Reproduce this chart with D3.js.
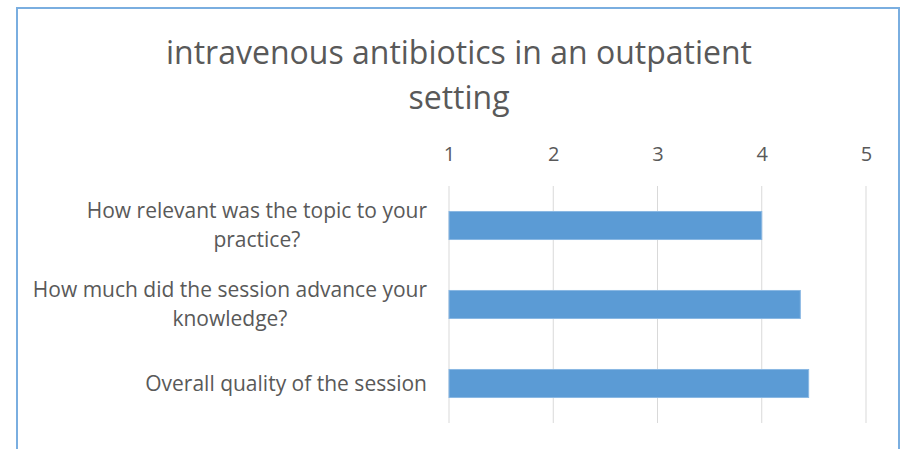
<!DOCTYPE html>
<html>
<head>
<meta charset="utf-8">
<script src="https://cdn.jsdelivr.net/npm/d3@7"></script>
<style>
  body { margin: 0; background: #fff; }
  text { font-family: "Open Sans", sans-serif; fill: #595959; }
</style>
</head>
<body>
<div id="vis"></div>
<script>
const questions = [
  ["How relevant was the topic to your", "practice?"],
  ["How much did the session advance your", "knowledge?"],
  ["Overall quality of the session"]
];
const scores = [4.0, 4.37, 4.45];
const ticks = [1, 2, 3, 4, 5];
const titleLines = ["intravenous antibiotics in an outpatient", "setting"];

const width = 901, height = 449;

const svg = d3.select("#vis")
  .append("svg")
  .attr("width", width)
  .attr("height", height);

// chart frame
svg.append("rect")
  .attr("x", 17).attr("y", 8)
  .attr("width", 882).attr("height", 460)
  .attr("fill", "#fff")
  .attr("stroke", "#7aaee0")
  .attr("stroke-width", 2);

svg.selectAll(".title")
  .data(titleLines)
  .enter()
  .append("text")
  .attr("class", "title")
  .attr("x", 459)
  .attr("y", (d, i) => 64 + i * 45)
  .attr("text-anchor", "middle")
  .attr("font-size", 32)
  .text(d => d);

const x = d3.scaleLinear().domain([1, 5]).range([449, 866]);
const y = d3.scaleBand()
  .domain(d3.range(questions.length))
  .range([186, 423])
  .paddingInner(0.645)
  .paddingOuter(0.3225);

// gridlines
svg.selectAll(".grid")
  .data(ticks)
  .enter()
  .append("line")
  .attr("x1", d => x(d)).attr("x2", d => x(d))
  .attr("y1", 186).attr("y2", 423)
  .attr("stroke", "#d9d9d9")
  .attr("stroke-width", 1);

const axis = d3.axisTop(x).tickValues(ticks).tickFormat(d3.format("d")).tickSize(0).tickPadding(0);
const gAxis = svg.append("g")
  .attr("transform", "translate(0,161)")
  .call(axis);
gAxis.select(".domain").remove();
gAxis.selectAll("text")
  .attr("font-size", 20)
  .style("font-family", "\"Open Sans\", sans-serif")
  .attr("fill", "#595959");

svg.selectAll(".bar")
  .data(scores)
  .enter()
  .append("rect")
  .attr("x", x(1))
  .attr("y", (d, i) => y(i))
  .attr("width", d => x(d) - x(1))
  .attr("height", y.bandwidth())
  .attr("fill", "#5b9bd5")
  .attr("stroke", "#8ab8e3")
  .attr("stroke-width", 1);

// category labels, wrapped lines centred on each bar
questions.forEach((lines, i) => {
  const cy = y(i) + y.bandwidth() / 2;
  const lh = 29;
  const t = svg.append("text")
    .attr("text-anchor", "end")
    .attr("font-size", 21);
  lines.forEach((line, j) => {
    t.append("tspan")
      .attr("x", 427)
      .attr("y", cy + (j - (lines.length - 1) / 2) * lh + 7)
      .text(line);
  });
});

// second lines are centred under the first line in the reference
svg.selectAll("text tspan:nth-child(2)").each(function() {
  const first = this.previousSibling;
  const w1 = first.getComputedTextLength();
  d3.select(this).attr("x", 427 - w1 / 2).attr("text-anchor", "middle");
});
</script>
</body>
</html>
